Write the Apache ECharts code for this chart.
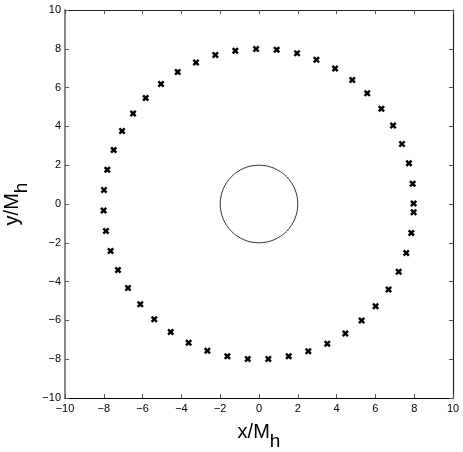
<!DOCTYPE html>
<html>
<head>
<meta charset="utf-8">
<script src="https://cdn.jsdelivr.net/npm/echarts@6/dist/echarts.min.js"></script>
<style>
  html, body { margin: 0; padding: 0; background: #fff; }
  #chart { width: 463px; height: 452px; }
</style>
</head>
<body>
<div id="chart"></div>
<script>
// ring of particle positions (x/Mh, y/Mh)
const ringX = [
  -0.15, 0.91, 1.96, 2.96, 3.92, 4.81, 5.58, 6.31, 6.91, 7.37, 7.73, 7.92, 7.97, 7.97,
  7.85, 7.59, 7.20, 6.68, 6.01, 5.29, 4.45, 3.52, 2.54, 1.53, 0.48, -0.58,
  -1.63, -2.66, -3.63, -4.55, -5.40, -6.12, -6.75, -7.27, -7.65, -7.89,
  -8.01, -7.99, -7.82, -7.49, -7.06, -6.49, -5.84, -5.05, -4.19, -3.25, -2.25, -1.22
]
const ringY = [
  7.99, 7.95, 7.77, 7.44, 6.99, 6.39, 5.71, 4.91, 4.04, 3.09, 2.10, 1.05, 0.02, -0.43,
  -1.49, -2.53, -3.49, -4.41, -5.27, -6.01, -6.67, -7.20, -7.59, -7.85, -7.99, -7.99,
  -7.85, -7.56, -7.15, -6.60, -5.94, -5.17, -4.33, -3.40, -2.42, -1.39,
  -0.33, 0.72, 1.77, 2.78, 3.76, 4.66, 5.46, 6.19, 6.80, 7.30, 7.68, 7.90
]
// horizon: centre x, centre y, radius
const horizon = [[0, 0, 2]]

const axisMin = -10
const axisMax = 10
const tickStep = 2

// thick "x" marker like the matlab one
const crossPath = 'path://M0,2.5 L2.5,0 L5,2.5 L7.5,0 L10,2.5 L7.5,5 L10,7.5 L7.5,10 L5,7.5 L2.5,10 L0,7.5 L2.5,5 Z'
const font = 'Liberation Sans, Arial, Helvetica, sans-serif'
const minusFmt = (v) => String(v).replace('-', '\u2212')

const chart = echarts.init(document.getElementById('chart'))

const baseAxis = {
  type: 'value',
  min: axisMin,
  max: axisMax,
  interval: tickStep,
  splitLine: { show: false },
  axisTick: { inside: true, length: 4, lineStyle: { color: '#555', width: 1 } },
}

const nameRich = {
  m: { fontSize: 20, fontFamily: font, color: '#000' },
  s: { fontSize: 19, fontFamily: font, color: '#000', padding: [18, 0, 0, 0] },
}

const option = {
  animation: false,
  backgroundColor: '#ffffff',
  grid: { left: 65, right: 10, top: 10, bottom: 54, containLabel: false, outerBoundsMode: 'none' },
  xAxis: [
    {
      ...baseAxis,
      position: 'bottom',
      axisLine: { show: true, onZero: false, lineStyle: { color: '#000', width: 1.2 } },
      axisLabel: { color: '#000', fontSize: 11, fontFamily: font, margin: 5, formatter: minusFmt },
      name: '{m|x/M}{s|h}',
      nameLocation: 'middle',
      nameGap: 16,
      nameTextStyle: { rich: nameRich },
    },
    {
      ...baseAxis,
      position: 'top',
      axisLine: { show: true, onZero: false, lineStyle: { color: '#222', width: 1.2 } },
      axisLabel: { show: false },
    },
  ],
  yAxis: [
    {
      ...baseAxis,
      position: 'left',
      axisLine: { show: true, onZero: false, lineStyle: { color: '#8a8a8a', width: 2 } },
      axisLabel: { color: '#000', fontSize: 11, fontFamily: font, margin: 4, formatter: minusFmt },
      name: '{m|y/M}{s|h}',
      nameLocation: 'middle',
      nameGap: 28,
      nameRotate: 90,
      nameTextStyle: { rich: nameRich },
    },
    {
      ...baseAxis,
      position: 'right',
      axisLine: { show: true, onZero: false, lineStyle: { color: '#222', width: 1.2 } },
      axisLabel: { show: false },
    },
  ],
  series: [
    {
      type: 'scatter',
      data: ringX.map((x, i) => [x, ringY[i]]),
      symbol: crossPath,
      symbolSize: 7,
      itemStyle: { color: '#000', opacity: 1 },
      silent: true,
    },
    {
      type: 'custom',
      data: horizon,
      silent: true,
      renderItem: function (params, api) {
        const c = api.coord([api.value(0), api.value(1)])
        const s = api.size([api.value(2), api.value(2)])
        return {
          type: 'ellipse',
          shape: { cx: c[0], cy: c[1], rx: s[0], ry: s[1] },
          style: { fill: 'none', stroke: '#000', lineWidth: 0.8 },
        }
      },
    },
  ],
}

chart.setOption(option)
</script>
</body>
</html>
